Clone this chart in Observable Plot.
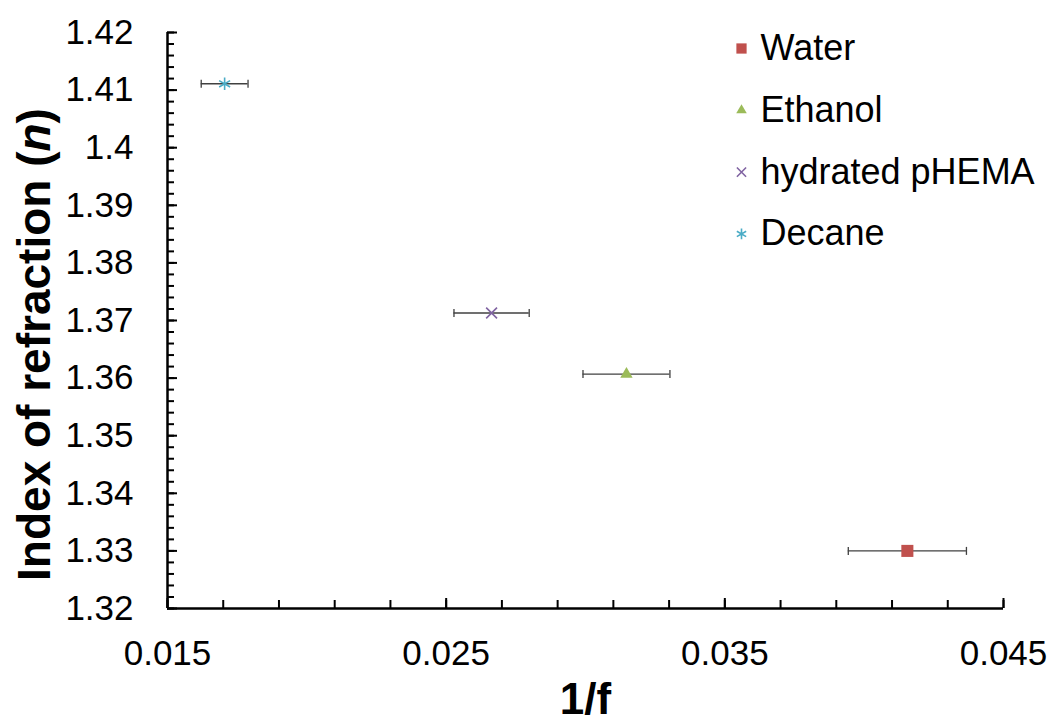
<!DOCTYPE html>
<html>
<head>
<meta charset="utf-8">
<script src="https://cdn.jsdelivr.net/npm/d3@7"></script>
<script src="https://cdn.jsdelivr.net/npm/@observablehq/plot@0.6"></script>
<style>
  html, body { margin: 0; padding: 0; background: white; }
</style>
</head>
<body>
<script>
// ---- Data ----
const series = ["Water", "Ethanol", "hydrated pHEMA", "Decane"];
const invF = [0.04155, 0.03147, 0.02663, 0.01705];        // 1/f
const refIndex = [1.3300, 1.3607, 1.3713, 1.4111];        // n
const invFErr = [0.00212, 0.00156, 0.00135, 0.00084];     // horizontal error (±)
const colors = ["#C0504D", "#9BBB59", "#8064A2", "#4BACC6"];
const xTickLabels = [0.015, 0.025, 0.035, 0.045];
const yTickLabels = [1.32, 1.33, 1.34, 1.35, 1.36, 1.37, 1.38, 1.39, 1.40, 1.41, 1.42];

// ---- Layout ----
const W = 1051, H = 724;
const mL = 167, mR = 48, mT = 32, mB = 116;
const plotW = W - mL - mR, plotH = H - mT - mB;

const xMinor = d3.range(0, 16).map(i => +(0.015 + i * 0.002).toFixed(4));
const yMinor = d3.range(0, 51).map(i => +(1.32 + i * 0.002).toFixed(4));

const vbar = {draw(ctx, size) { const r = Math.sqrt(size / Math.PI); ctx.moveTo(0, -r); ctx.lineTo(0, r); }};
const symbols = [d3.symbolSquare, d3.symbolTriangle, d3.symbolTimes, d3.symbolAsterisk];
const filled = [true, true, false, false];
const radii = [6.8, 4.6, 5.0, 6.0];
const fmt = d => String(+(+d).toFixed(3));

const idx = series.map((_, i) => i);

const marks = [
  // axis lines
  Plot.ruleY([1.32], {stroke: "black", strokeWidth: 2.5}),
  Plot.ruleX([0.015], {stroke: "black", strokeWidth: 2.5}),
  // inward ticks
  Plot.ruleX(xMinor, {x: d => d, insetTop: plotH - 8, stroke: "black", strokeWidth: 2}),
  Plot.ruleX(xTickLabels, {x: d => d, insetTop: plotH - 10, stroke: "black", strokeWidth: 2}),
  Plot.ruleY(yMinor, {y: d => d, insetRight: plotW - 7, stroke: "black", strokeWidth: 2}),
  Plot.ruleY(yTickLabels, {y: d => d, insetRight: plotW - 10, stroke: "black", strokeWidth: 2}),
  // tick labels
  Plot.axisX({ticks: xTickLabels, tickSize: 0, tickPadding: 32, tickFormat: fmt, fontSize: 35, label: null}),
  Plot.axisY({ticks: yTickLabels, tickSize: 0, tickPadding: 34, tickFormat: fmt, fontSize: 35, label: null}),
  // axis titles
  Plot.text(["1/f"], {text: d => d, frameAnchor: "bottom", dy: 91, fontSize: 44, fontWeight: "bold", lineAnchor: "middle"}),
  Plot.text(["Index of refraction (n)"], {text: d => d, frameAnchor: "left", rotate: -90, dx: -132, dy: 24, fontSize: 46, fontWeight: "bold", lineAnchor: "middle", textAnchor: "middle"}),
  // error bars
  Plot.ruleY(idx, {y: i => refIndex[i], x1: i => invF[i] - invFErr[i], x2: i => invF[i] + invFErr[i], stroke: "#404040", strokeWidth: 1.3}),
  Plot.dot(idx, {x: i => invF[i] - invFErr[i], y: i => refIndex[i], symbol: vbar, r: 4, stroke: "#404040", strokeWidth: 1.3, fill: "none"}),
  Plot.dot(idx, {x: i => invF[i] + invFErr[i], y: i => refIndex[i], symbol: vbar, r: 4, stroke: "#404040", strokeWidth: 1.3, fill: "none"})
];

// markers + legend
idx.forEach(i => {
  const style = filled[i]
    ? {fill: colors[i], stroke: "none"}
    : {fill: "none", stroke: colors[i], strokeWidth: 1.6};
  marks.push(Plot.dot([i], {x: j => invF[j], y: j => refIndex[j], symbol: symbols[i], r: radii[i], ...style}));
  marks.push(Plot.dot([i], {frameAnchor: "top-right", dx: -262, dy: 16 + i * 61.8, symbol: symbols[i], r: radii[i] * 0.85, ...style}));
  marks.push(Plot.text([series[i]], {text: d => d, frameAnchor: "top-right", dx: -243, dy: 16 + i * 61.8, textAnchor: "start", lineAnchor: "middle", fontSize: 36, fill: "black"}));
});

const chart = Plot.plot({
  width: W,
  height: H,
  marginLeft: mL,
  marginRight: mR,
  marginTop: mT,
  marginBottom: mB,
  x: {domain: [0.015, 0.045]},
  y: {domain: [1.32, 1.42]},
  style: {fontFamily: "'Liberation Sans', Arial, sans-serif", fontSize: "35px", background: "white", color: "black"},
  marks
});

// italic n in the y title
d3.select(chart).selectAll("text").each(function() {
  if (this.textContent === "Index of refraction (n)") {
    const t = d3.select(this);
    t.text(null);
    t.append("tspan").text("Index of refraction (");
    t.append("tspan").attr("font-style", "italic").text("n");
    t.append("tspan").text(")");
  }
});

document.body.appendChild(chart);
</script>
</body>
</html>
